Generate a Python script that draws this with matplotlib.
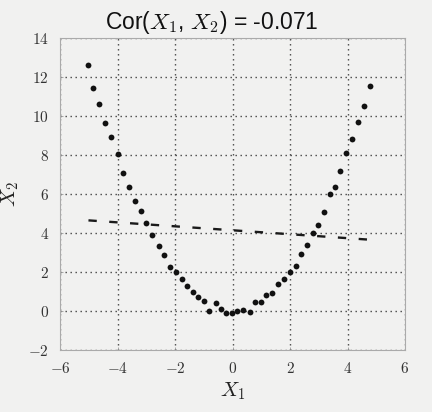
import numpy as np
import matplotlib
matplotlib.use("Agg")
import matplotlib.pyplot as plt
from matplotlib.ticker import FuncFormatter

plt.rcParams['mathtext.fontset'] = 'cm'
plt.rcParams['lines.scale_dashes'] = False

x1 = [-5.01, -4.84, -4.63, -4.42, -4.23, -4.00, -3.80, -3.60, -3.39, -3.18,
      -3.00, -2.79, -2.56, -2.37, -2.18, -1.98, -1.77, -1.60, -1.39, -1.19,
      -1.00, -0.81, -0.56, -0.40, -0.21, -0.03, 0.14, 0.37, 0.60, 0.77,
      1.00, 1.18, 1.39, 1.58, 1.78, 1.99, 2.20, 2.39, 2.59, 2.80,
      2.97, 3.18, 3.38, 3.55, 3.75, 3.96, 4.15, 4.36, 4.57, 4.77]
x2 = [12.59, 11.44, 10.60, 9.63, 8.90, 8.04, 7.10, 6.38, 5.63, 5.15,
      4.50, 3.88, 3.32, 2.87, 2.26, 2.00, 1.63, 1.28, 0.95, 0.70,
      0.53, 0.00, 0.39, 0.09, -0.09, -0.09, 0.02, 0.05, -0.07, 0.47,
      0.44, 0.82, 0.90, 1.38, 1.63, 2.00, 2.30, 2.94, 3.40, 4.00,
      4.39, 5.07, 6.00, 6.34, 7.16, 8.08, 8.81, 9.71, 10.51, 11.53]
title_text = "Cor($X_1$, $X_2$) = -0.071"
xticks = [-6, -4, -2, 0, 2, 4, 6]
yticks = [-2, 0, 2, 4, 6, 8, 10, 12, 14]

x1 = np.array(x1)
x2 = np.array(x2)
slope, intercept = np.polyfit(x1, x2, 1)
xf = np.array([x1.min(), x1.max()])

bg = '#f1f1f0'
fig = plt.figure(figsize=(4.32, 4.12), dpi=100, facecolor=bg)
ax = fig.add_axes([60/432, 1-350/412, 345/432, 312/412], facecolor=bg)

ax.plot(x1, x2, 'o', color='#111111', ms=4.2, mec='none', zorder=3)
ax.plot(xf, slope*xf + intercept, color='#1a1a1a', lw=1.7,
        linestyle=(0, (6, 9)), zorder=2)

ax.set_xlim(-6, 6)
ax.set_ylim(-2, 14)
ax.set_xticks(xticks)
ax.set_yticks(yticks)
fmt = FuncFormatter(lambda v, p: r'$%d$' % v)
ax.xaxis.set_major_formatter(fmt)
ax.yaxis.set_major_formatter(fmt)
ax.tick_params(direction='in', length=2, width=0.6, color='#999999',
               labelsize=11, labelcolor='#333333', pad=8)
ax.grid(True, color='#444444', linestyle=(0, (1, 2.6)), linewidth=1.0)
for s in ax.spines.values():
    s.set_color('#aaaaaa')
    s.set_linewidth(0.8)

ax.set_xlabel('$X_1$', fontsize=15, color='#222222', labelpad=3)
ax.set_ylabel('$X_2$', fontsize=15, color='#222222', labelpad=5)
fig.text(212/432, 1-22/412, title_text, ha='center', va='center',
         fontsize=16.5, family='Liberation Sans', color='#111111')

fig.savefig('out.png', dpi=100, facecolor=bg)
